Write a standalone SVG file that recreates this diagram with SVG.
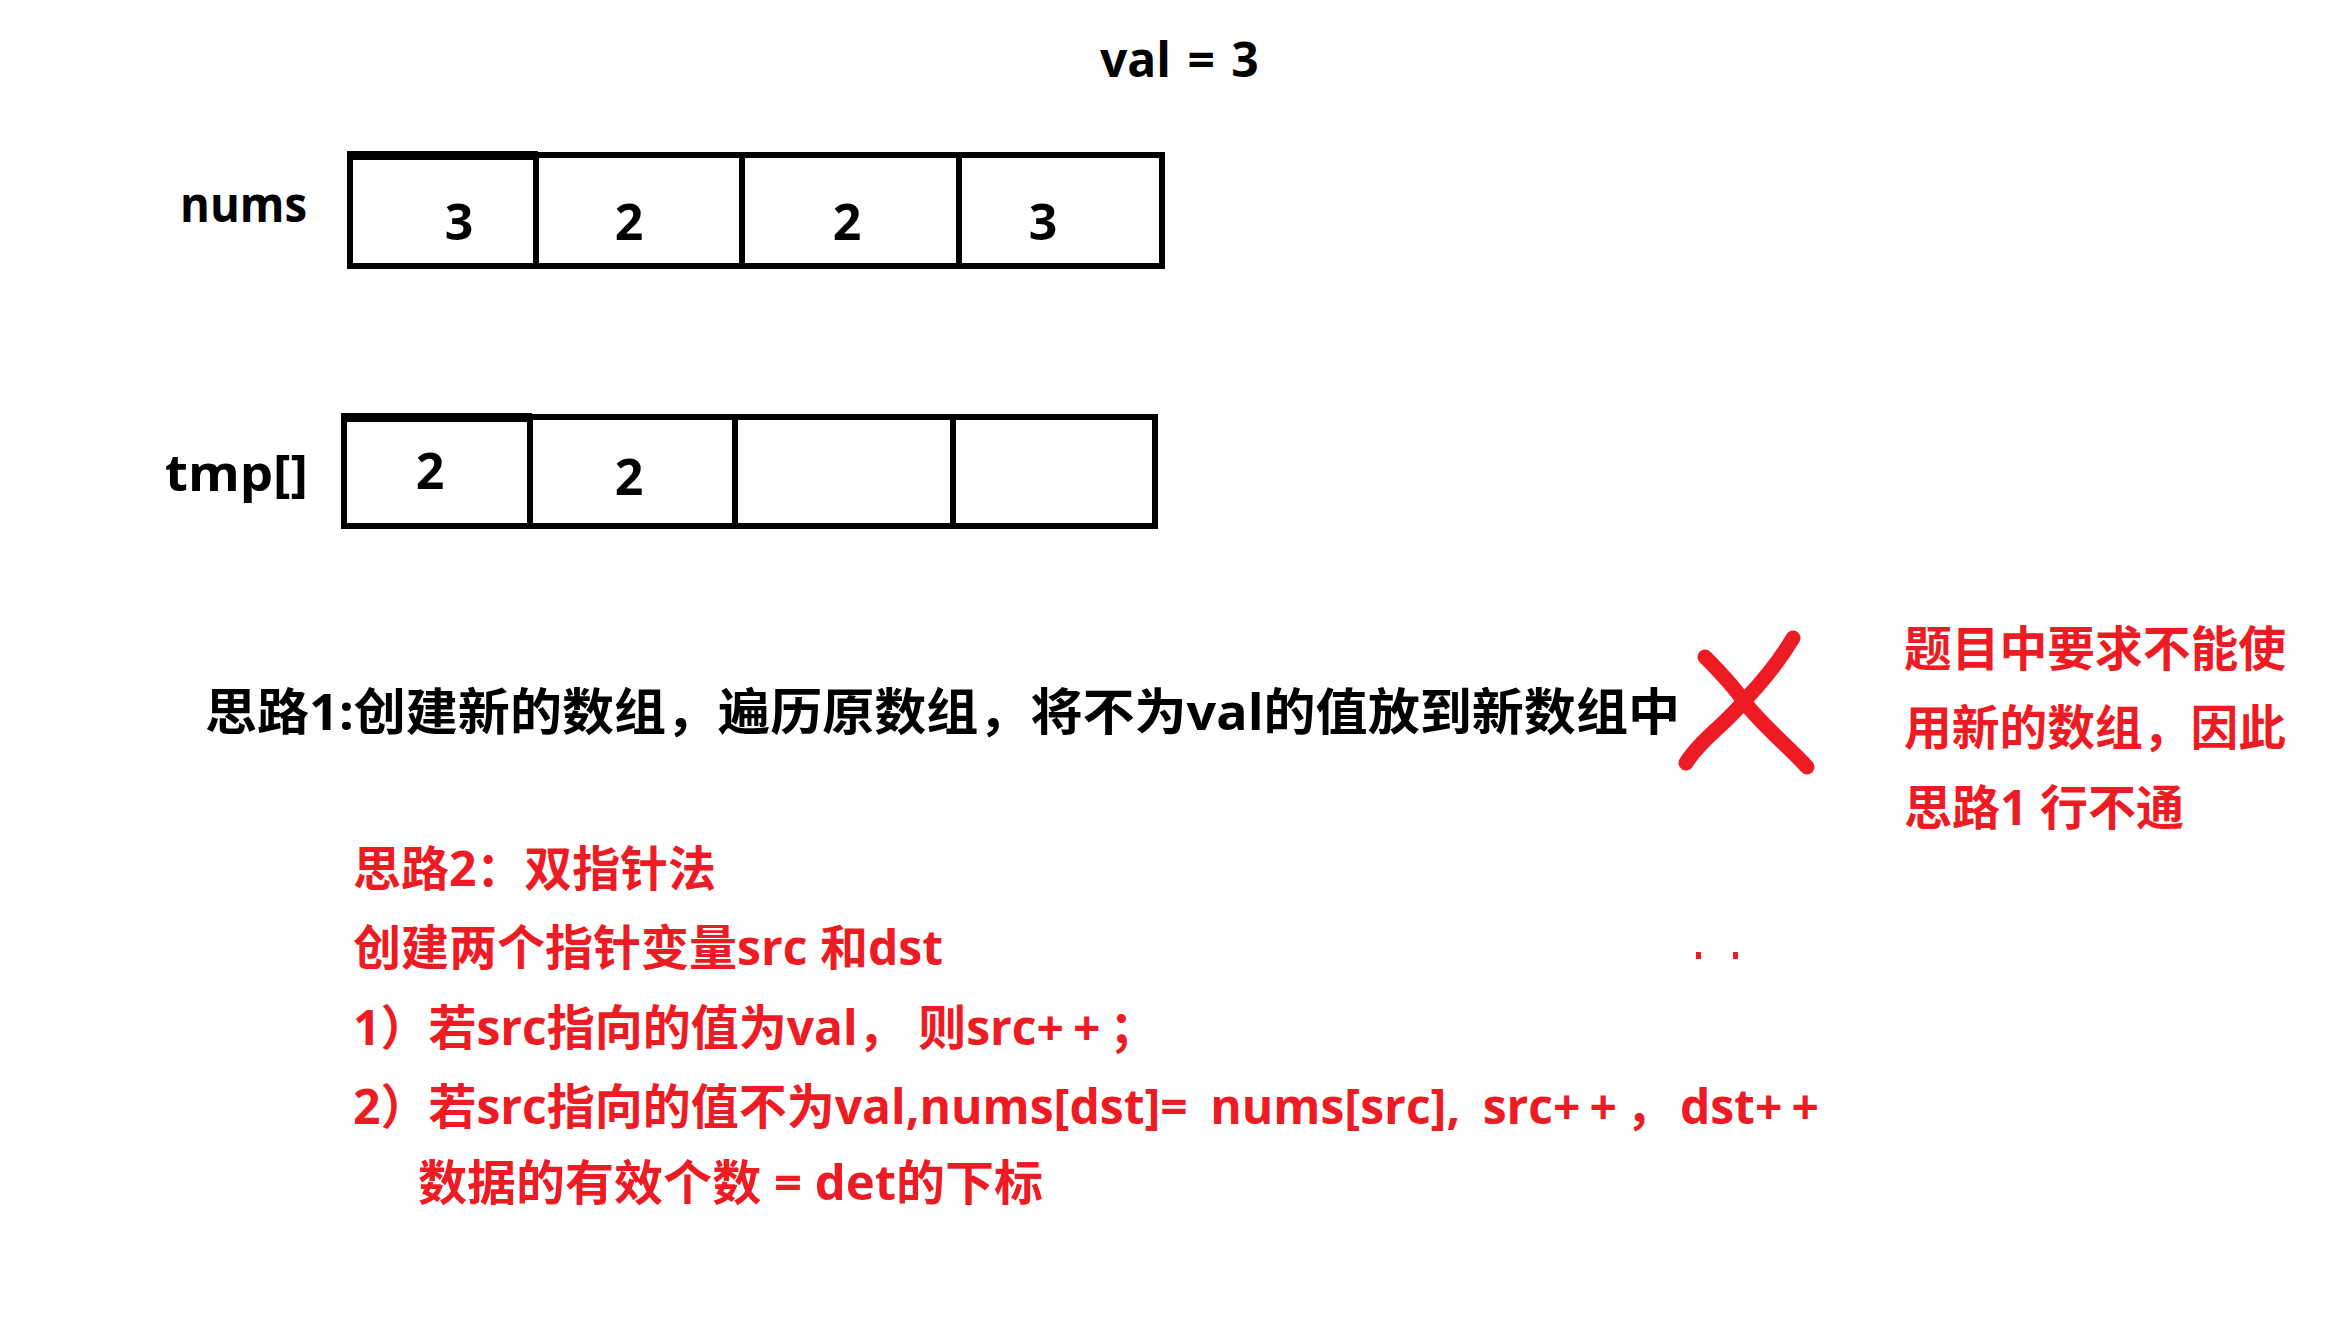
<svg xmlns="http://www.w3.org/2000/svg" width="2347" height="1337" viewBox="0 0 2347 1337">
<style>
.t{font-family:"Open Sans","Noto Sans CJK SC",sans-serif;font-weight:700;}
.k{fill:#000;}
.r{fill:#ED1C24;}
.box{fill:#fff;stroke:#000;stroke-width:6;}
.ln{stroke:#000;stroke-width:6;}
.x{fill:none;stroke:#ED1C24;stroke-width:15;stroke-linecap:round;stroke-linejoin:round;}
.pp{letter-spacing:9px;}
</style>
<rect width="2347" height="1337" fill="#fff"/>
<g id="val"><text class="t k" x="1100" y="77" font-size="48" word-spacing="4">val = 3</text></g>
<g id="nums">
<text class="t k" x="180" y="222" font-size="50" textLength="127" lengthAdjust="spacingAndGlyphs">nums</text>
<rect class="box" x="350" y="155" width="812" height="111"/>
<rect x="347" y="151" width="191" height="9" fill="#000"/>
<line class="ln" x1="536" y1="153" x2="536" y2="268" stroke-width="8"/>
<line class="ln" x1="742" y1="153" x2="742" y2="268"/>
<line class="ln" x1="959" y1="153" x2="959" y2="268"/>
<text class="t k" x="459" y="240" font-size="50" text-anchor="middle">3</text>
<text class="t k" x="629" y="240" font-size="50" text-anchor="middle">2</text>
<text class="t k" x="847" y="240" font-size="50" text-anchor="middle">2</text>
<text class="t k" x="1043" y="240" font-size="50" text-anchor="middle">3</text>
</g>
<g id="tmp">
<text class="t k" x="165" y="491" font-size="50" textLength="143" lengthAdjust="spacingAndGlyphs">tmp[]</text>
<rect class="box" x="344" y="417" width="811" height="109"/>
<rect x="341" y="413" width="191" height="9" fill="#000"/>
<line class="ln" x1="530" y1="415" x2="530" y2="528" stroke-width="8"/>
<line class="ln" x1="735" y1="415" x2="735" y2="528"/>
<line class="ln" x1="953" y1="415" x2="953" y2="528"/>
<text class="t k" x="430" y="489" font-size="50" text-anchor="middle">2</text>
<text class="t k" x="629" y="495" font-size="50" text-anchor="middle">2</text>
</g>
<g id="idea1"><text class="t k" x="205" y="730" font-size="50" textLength="1475" lengthAdjust="spacingAndGlyphs">思路1:创建新的数组，遍历原数组，将不为val的值放到新数组中</text></g>
<g id="cross">
<path class="x" d="M1705,657 C1720,672 1735,688 1745,703 C1765,728 1790,748 1807,767"/>
<path class="x" d="M1793,638 C1780,660 1762,682 1745,700 C1725,725 1700,740 1686,763"/>
</g>
<g id="note">
<text class="t r" x="1904" y="666" font-size="48" textLength="382" lengthAdjust="spacingAndGlyphs">题目中要求不能使</text>
<text class="t r" x="1904" y="745" font-size="48" textLength="382" lengthAdjust="spacingAndGlyphs">用新的数组，因此</text>
<text class="t r" x="1904" y="825" font-size="48">思路1 行不通</text>
</g>
<g id="idea2">
<text class="t r" x="353" y="886" font-size="48" textLength="363" lengthAdjust="spacingAndGlyphs">思路2：双指针法</text>
<text class="t r" x="353" y="965" font-size="48" textLength="590" lengthAdjust="spacingAndGlyphs">创建两个指针变量src 和dst</text>
<text class="t r" x="353" y="1045" font-size="48">1）若src指向的值为val，  则src<tspan class="pp">++</tspan>；</text>
<text class="t r" x="353" y="1124" font-size="48" word-spacing="10">2）若src指向的值不为val,nums[dst]= nums[src], src<tspan class="pp">++</tspan>，<tspan dx="6">dst</tspan><tspan class="pp">++</tspan></text>
<text class="t r" x="418" y="1200" font-size="48" textLength="625" lengthAdjust="spacingAndGlyphs">数据的有效个数 = det的下标</text>
<rect x="1696" y="952" width="5" height="7" fill="#ED1C24"/>
<rect x="1733" y="952" width="5" height="7" fill="#ED1C24"/>
</g>
</svg>
